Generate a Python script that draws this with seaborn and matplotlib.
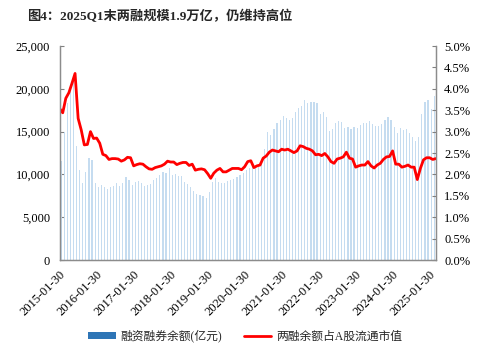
import numpy as np
import pandas as pd
import matplotlib
matplotlib.use("Agg")
import matplotlib.pyplot as plt
import seaborn as sns
from matplotlib.patches import Patch
from matplotlib.lines import Line2D

# ---- data ----
title = "图4：2025Q1末两融规模1.9万亿，仍维持高位"
bar_label = "融资融券余额(亿元)"
line_label = "两融余额占A股流通市值"
date_ticks = ["2015-01-30", "2016-01-30", "2017-01-30", "2018-01-30", "2019-01-30",
              "2020-01-30", "2021-01-30", "2022-01-30", "2023-01-30", "2024-01-30",
              "2025-01-30"]
left_ticks = [0, 5000, 10000, 15000, 20000, 25000]
left_tick_labels = ["0", "5,000", "10,000", "15,000", "20,000", "25,000"]
right_ticks = [0.0, 0.5, 1.0, 1.5, 2.0, 2.5, 3.0, 3.5, 4.0, 4.5, 5.0]
right_tick_labels = ["0.0%", "0.5%", "1.0%", "1.5%", "2.0%", "2.5%", "3.0%", "3.5%",
                     "4.0%", "4.5%", "5.0%"]

# monthly margin balance (亿元), 2015-02 .. 2025-03
balance = [
    11600, 14900, 18400, 20100, 20800, 13300, 10500, 9000, 10300, 11900, 11700,
    9000, 8500, 8800, 8500, 8300, 8500, 8600, 9000, 8700, 9000, 9700, 9300,
    8800, 9100, 9200, 9000, 8600, 8800, 8900, 9300, 9600, 9900, 10300, 10200,
    10800, 9900, 10000, 9800, 9800, 9100, 8900, 8500, 8100, 7700, 7600, 7500,
    7200, 8000, 9150, 9600, 9150, 9000, 9000, 9200, 9350, 9500, 9700, 9900,
    10200, 10500, 10700, 10900, 10900, 10900, 11700, 13000, 15000, 14600, 15300,
    16000, 16400, 16800, 16600, 16400, 16600, 17250, 17800, 18000, 18700, 18400,
    18500, 18500, 18300, 17050, 17250, 16700, 15100, 15300, 16000, 16300, 16100,
    15400, 15500, 15300, 15600, 15400, 15800, 16000, 16000, 16200, 15900, 15700,
    15650, 15900, 16400, 16700, 16400, 15600, 14800, 15400, 15200, 15300, 14800,
    14400, 13900, 14400, 17050, 18500, 18700, 17700, 19200,
]

# margin balance / A-share float market cap (%), 2015-01 .. 2025-03
ratio = [
    3.54, 3.44, 3.78, 3.91, 4.13, 4.36, 3.31, 3.04, 2.69, 2.70, 3.00, 2.84,
    2.85, 2.73, 2.47, 2.44, 2.35, 2.37, 2.37, 2.36, 2.31, 2.34, 2.40, 2.39,
    2.20, 2.23, 2.25, 2.24, 2.18, 2.13, 2.12, 2.16, 2.18, 2.20, 2.24, 2.31,
    2.29, 2.29, 2.23, 2.26, 2.28, 2.28, 2.21, 2.24, 2.10, 2.12, 2.13, 2.11,
    2.02, 1.91, 2.03, 2.10, 2.14, 2.06, 2.06, 2.10, 2.14, 2.14, 2.14, 2.11,
    2.18, 2.30, 2.32, 2.16, 2.20, 2.22, 2.38, 2.43, 2.52, 2.57, 2.55, 2.53,
    2.59, 2.57, 2.59, 2.55, 2.51, 2.55, 2.67, 2.65, 2.61, 2.59, 2.55, 2.46,
    2.47, 2.44, 2.49, 2.41, 2.30, 2.26, 2.36, 2.38, 2.41, 2.52, 2.38, 2.36,
    2.17, 2.20, 2.22, 2.22, 2.30, 2.20, 2.15, 2.22, 2.26, 2.35, 2.41, 2.42,
    2.55, 2.24, 2.24, 2.17, 2.19, 2.22, 2.17, 2.17, 1.88, 2.14, 2.34, 2.39,
    2.39, 2.35, 2.37,
]

sns.set_style("white")
plt.rcParams["font.family"] = ["Liberation Serif", "Noto Sans CJK SC"]
plt.rcParams["axes.unicode_minus"] = False

fig = plt.figure(figsize=(4.81, 3.49), dpi=100)
ax = fig.add_axes([0.124, 0.255, 0.782, 0.613])

n_bars = len(balance)
df_bar = pd.DataFrame({"idx": np.arange(n_bars), "bal": balance})
sns.barplot(data=df_bar, x="idx", y="bal", color="#C5DCF0", saturation=1,
            width=0.38, ax=ax, linewidth=0)

ax2 = ax.twinx()
df_line = pd.DataFrame({"x": np.arange(len(ratio)) - 0.5, "r": ratio})
sns.lineplot(data=df_line, x="x", y="r", color="#FF0000", linewidth=2.0, ax=ax2)

ax.set_xlim(-0.5, n_bars - 0.5)
ax2.set_xlim(-0.5, n_bars - 0.5)
ax.set_ylim(0, 25000)
ax2.set_ylim(0, 5)

ax.set_xticks([-0.5 + 12 * k for k in range(len(date_ticks))])
ax.set_xticklabels(date_ticks, rotation=45, ha="right", rotation_mode="anchor",
                   fontsize=9)
ax.set_yticks(left_ticks)
ax.set_yticklabels(left_tick_labels, fontsize=9)
ax2.set_yticks(right_ticks)
ax2.set_yticklabels(right_tick_labels, fontsize=9)

for a in (ax, ax2):
    a.set_xlabel("")
    a.set_ylabel("")
    a.tick_params(direction="in", length=3, width=0.8, color="#808080",
                  labelcolor="#000000", pad=5)
    a.spines["top"].set_visible(False)
    for s in ("left", "right", "bottom"):
        a.spines[s].set_color("#8C8C8C")
        a.spines[s].set_linewidth(0.9)
ax.tick_params(axis="x", pad=6)
ax2.tick_params(axis="y", pad=6)
ax.tick_params(axis="y", pad=7)

fig.text(0.056, 0.952, title, fontsize=9.5, fontweight="bold", ha="left", va="center",
         family=["Liberation Serif", "Noto Sans CJK SC"])

handles = [Patch(facecolor="#2E75B6", edgecolor="none"),
           Line2D([0], [0], color="#FF0000", linewidth=2)]
fig.legend(handles, [bar_label, line_label], loc="center", ncol=2,
           bbox_to_anchor=(0.51, 0.037), frameon=False, fontsize=8.5,
           handlelength=2.3, handleheight=0.5, columnspacing=1.9, handletextpad=0.4)

fig.savefig("out.png", dpi=100)
